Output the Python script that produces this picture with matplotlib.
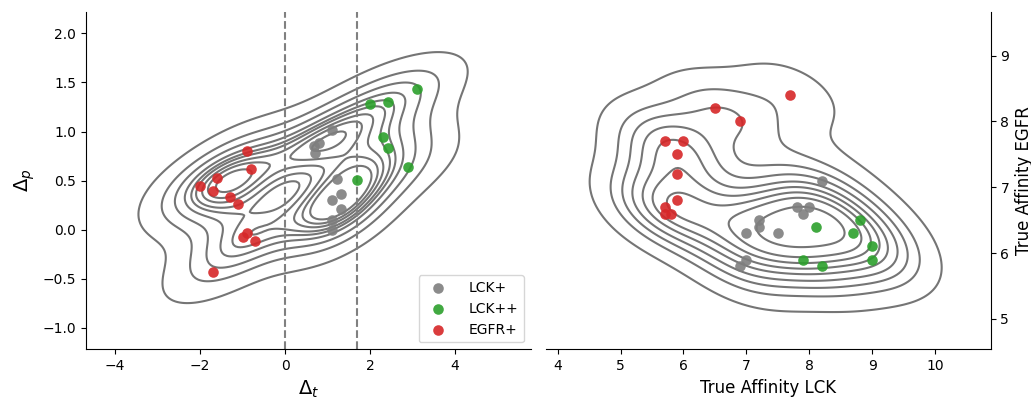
import numpy as np
import matplotlib
matplotlib.use("Agg")
import matplotlib.pyplot as plt
import seaborn as sns

# ---------------- data ----------------
# Left panel: Delta_t / Delta_p per compound group
lck_dt  = [1.11, 0.80, 0.68, 0.71, 1.22, 1.31, 1.10, 1.31, 1.10, 1.10]
lck_dp  = [1.02, 0.88, 0.85, 0.78, 0.52, 0.36, 0.30, 0.21, 0.10, 0.00]
lck2_dt = [2.00, 2.41, 3.10, 2.30, 2.41, 2.90, 1.69]
lck2_dp = [1.28, 1.30, 1.43, 0.94, 0.83, 0.64, 0.51]
egfr_dt = [-0.90, -0.80, -1.60, -2.00, -1.70, -1.30, -1.10, -1.00, -0.90, -0.70, -1.70]
egfr_dp = [0.80, 0.62, 0.53, 0.45, 0.39, 0.33, 0.26, -0.07, -0.03, -0.11, -0.43]

# Right panel: true affinities
lck_aff_lck   = [8.2, 7.8, 8.0, 7.9, 7.2, 7.2, 7.0, 7.5, 7.0, 6.9]
lck_aff_egfr  = [7.1, 6.7, 6.7, 6.6, 6.5, 6.4, 6.3, 6.3, 5.9, 5.8]
lck2_aff_lck  = [8.1, 8.8, 8.7, 9.0, 9.0, 7.9, 8.2]
lck2_aff_egfr = [6.4, 6.5, 6.3, 6.1, 5.9, 5.9, 5.8]
egfr_aff_lck  = [7.7, 6.5, 6.9, 5.7, 6.0, 5.9, 5.9, 5.9, 5.7, 5.7, 5.8]
egfr_aff_egfr = [8.4, 8.2, 8.0, 7.7, 7.7, 7.5, 7.2, 6.8, 6.7, 6.6, 6.6]

group_labels = ["LCK+", "LCK++", "EGFR+"]
group_colors = ["tab:gray", "tab:green", "tab:red"]
cut_points = [0.0, 1.7]

all_dt = lck_dt + lck2_dt + egfr_dt
all_dp = lck_dp + lck2_dp + egfr_dp
all_lck = lck_aff_lck + lck2_aff_lck + egfr_aff_lck
all_egfr = lck_aff_egfr + lck2_aff_egfr + egfr_aff_egfr

plt.rcParams["font.family"] = "DejaVu Sans"
fig = plt.figure(figsize=(10.31, 3.98), dpi=100)
ax1 = fig.add_axes([0.0834, 0.1224, 0.4316, 0.8475])
ax2 = fig.add_axes([0.5296, 0.1224, 0.4313, 0.8475])

line_col = (0.46, 0.46, 0.46)

# left
sns.kdeplot(x=all_dt, y=all_dp, ax=ax1, color=line_col, linewidths=1.5, zorder=1)
for xs, ys, c, lab in zip([lck_dt, lck2_dt, egfr_dt], [lck_dp, lck2_dp, egfr_dp],
                          group_colors, group_labels):
    ax1.scatter(xs, ys, s=58, color=c, alpha=0.9, linewidths=0, label=lab, zorder=3)
for cp in cut_points:
    ax1.axvline(cp, color="gray", ls="--", lw=1.5, zorder=2)
ax1.set_xticks([-4, -2, 0, 2, 4])
ax1.set_yticks([-1.0, -0.5, 0.0, 0.5, 1.0, 1.5, 2.0])
ax1.set_xlabel(r"$\Delta_t$", fontsize=14)
ax1.set_ylabel(r"$\Delta_p$", fontsize=14)
ax1.spines["top"].set_visible(False)
ax1.spines["right"].set_visible(False)
ax1.legend(loc="lower right", fontsize=10, handletextpad=1.2)

# right
sns.kdeplot(x=all_lck, y=all_egfr, ax=ax2, color=line_col, linewidths=1.5, zorder=1)
for xs, ys, c in zip([lck_aff_lck, lck2_aff_lck, egfr_aff_lck],
                     [lck_aff_egfr, lck2_aff_egfr, egfr_aff_egfr], group_colors):
    ax2.scatter(xs, ys, s=58, color=c, alpha=0.9, linewidths=0, zorder=3)
ax2.set_xticks([4, 5, 6, 7, 8, 9, 10])
ax2.set_yticks([5, 6, 7, 8, 9])
ax2.yaxis.tick_right()
ax2.yaxis.set_label_position("right")
ax2.set_xlabel("True Affinity LCK", fontsize=12)
ax2.set_ylabel("True Affinity EGFR", fontsize=12)
ax2.spines["top"].set_visible(False)
ax2.spines["left"].set_visible(False)

fig.savefig("out.png", dpi=100)
